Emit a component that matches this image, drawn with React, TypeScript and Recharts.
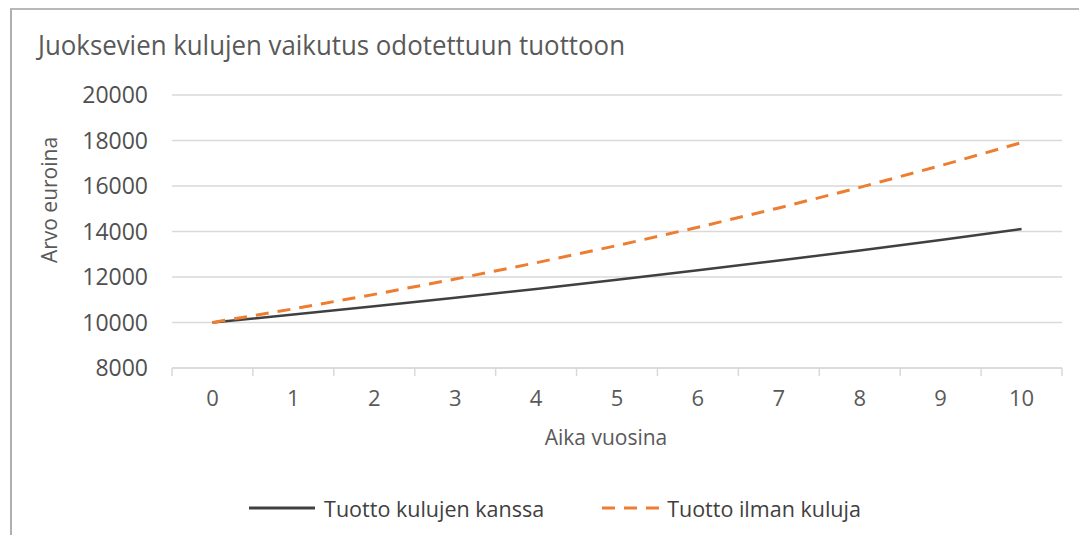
import React from 'react';
import { LineChart, Line, XAxis, YAxis, CartesianGrid, Legend } from 'recharts';

const years = ['0', '1', '2', '3', '4', '5', '6', '7', '8', '9', '10'];
const withFees = [10000, 10350, 10712, 11087, 11475, 11877, 12293, 12723, 13168, 13629, 14106];
const withoutFees = [10000, 10600, 11236, 11910, 12625, 13382, 14185, 15036, 15938, 16895, 17908];
const yTicks = [8000, 10000, 12000, 14000, 16000, 18000, 20000];

const TITLE = 'Juoksevien kulujen vaikutus odotettuun tuottoon';
const X_TITLE = 'Aika vuosina';
const Y_TITLE = 'Arvo euroina';
const S1 = 'Tuotto kulujen kanssa';
const S2 = 'Tuotto ilman kuluja';
const seriesOrder = [S1, S2];

const data = years.map((y, i) => ({ year: y, [S1]: withFees[i], [S2]: withoutFees[i] }));

const W = 1079;
const H = 527;
const Y_AXIS_W = 164;
const PLOT_LEFT = Y_AXIS_W;
const TICK_SIZE = 8;
const TICK_MARGIN = 14;
const FONT = '"Open Sans", sans-serif';

const XTick = (props: any) => {
  const { x, y, payload, index, visibleTicksCount } = props;
  const half = (x - PLOT_LEFT) / (2 * index + 1);
  const axisY = y - TICK_SIZE - TICK_MARGIN;
  return (
    <g>
      <line x1={x - half} x2={x - half} y1={axisY} y2={axisY + TICK_SIZE} stroke="#d9d9d9" strokeWidth={1.5} />
      {index === visibleTicksCount - 1 && (
        <line x1={x + half} x2={x + half} y1={axisY} y2={axisY + TICK_SIZE} stroke="#d9d9d9" strokeWidth={1.5} />
      )}
      <text x={x} y={y} dy="0.71em" textAnchor="middle" fill="#595959" fontSize={22} fontFamily={FONT}>
        {payload.value}
      </text>
    </g>
  );
};

const LegendContent = (props: any) => {
  const items = [...(props.payload || [])].sort(
    (a: any, b: any) => seriesOrder.indexOf(a.value) - seriesOrder.indexOf(b.value)
  );
  return (
    <div style={{ display: 'flex', justifyContent: 'center', alignItems: 'center', height: 40, paddingLeft: 40, fontFamily: FONT }}>
      {items.map((p: any, i: number) => {
        const dashed = !!p.payload?.strokeDasharray;
        const w = dashed ? 57 : 66;
        return (
          <div key={i} style={{ display: 'flex', alignItems: 'center', marginRight: i === 0 ? 58 : 0 }}>
            <svg width={w} height={10} style={{ marginRight: dashed ? 8 : 9 }}>
              <line x1={0} x2={w} y1={5} y2={5} stroke={p.color} strokeWidth={3} strokeDasharray={dashed ? '13 9' : undefined} />
            </svg>
            <span style={{ fontSize: 21.5, color: '#404040' }}>{p.value}</span>
          </div>
        );
      })}
    </div>
  );
};

export default function App() {
  return (
    <div style={{ position: 'relative', width: W, height: H, overflow: 'hidden', background: '#fff', fontFamily: FONT }}>
      <div style={{ position: 'absolute', left: 2, top: 0, width: W + 20, height: H + 20, borderTop: '2px solid #b8b8b8', borderLeft: '2px solid #b0b0b0', boxSizing: 'border-box' }} />
      <svg width={W} height={70} style={{ position: 'absolute', left: 0, top: 0 }}>
        <text x={30} y={47} fontSize={27} fill="#595959" fontFamily={FONT} textLength={587} lengthAdjust="spacingAndGlyphs">
          {TITLE}
        </text>
      </svg>
      <div style={{ position: 'absolute', left: 0, top: 0 }}>
        <LineChart width={W} height={H} data={data} margin={{ top: 87, right: 25, bottom: 0, left: 0 }}>
          <CartesianGrid vertical={false} stroke="#d9d9d9" strokeWidth={1.5} />
          <XAxis
            dataKey="year"
            scale="band"
            height={127}
            axisLine={{ stroke: '#d9d9d9', strokeWidth: 1.5 }}
            tickLine={false}
            tickSize={TICK_SIZE}
            tickMargin={TICK_MARGIN}
            tick={<XTick />}
            interval={0}
            label={{
              content: (p: any) => (
                <text x={p.viewBox.x + p.viewBox.width / 2 - 11} y={430} dy="0.35em" textAnchor="middle" fill="#595959" fontSize={21} fontFamily={FONT}>
                  {X_TITLE}
                </text>
              ),
            }}
          />
          <YAxis
            width={Y_AXIS_W}
            domain={[8000, 20000]}
            ticks={yTicks}
            axisLine={false}
            tickLine={false}
            tickMargin={18}
            tick={{ fill: '#505050', fontSize: 23, fontFamily: FONT }}
            label={{
              content: () => (
                <text x={42} y={192} dy="0.35em" textAnchor="middle" fill="#595959" fontSize={21} fontFamily={FONT} transform="rotate(-90, 42, 192)">
                  {Y_TITLE}
                </text>
              ),
            }}
          />
          <Legend verticalAlign="bottom" content={<LegendContent />} wrapperStyle={{ bottom: 7 }} />
          <Line type="linear" dataKey={S1} stroke="#404040" strokeWidth={2.5} dot={false} isAnimationActive={false} />
          <Line type="linear" dataKey={S2} stroke="#ED7D31" strokeWidth={3} strokeDasharray="13 9" dot={false} isAnimationActive={false} />
        </LineChart>
      </div>
    </div>
  );
}
